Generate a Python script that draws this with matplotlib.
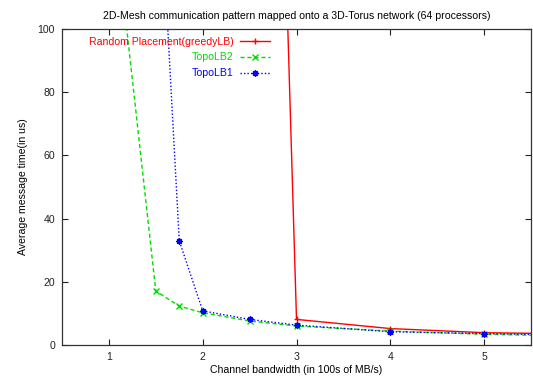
import matplotlib
matplotlib.use('Agg')
import matplotlib.pyplot as plt

plt.rcParams['font.family'] = ['Liberation Sans', 'DejaVu Sans']

# 带宽 (100 MB/s) 与平均消息时间 (us)
bw_random = [2.5, 3, 4, 5, 6]
t_random = [505, 8.1, 5.2, 3.9, 3.5]

bw_topo2 = [1, 1.5, 1.75, 2, 2.5, 3, 4, 5, 6]
t_topo2 = [151, 17.1, 12.3, 10.2, 7.6, 6.0, 4.4, 3.4, 2.8]

bw_topo1 = [1.5, 1.75, 2, 2.5, 3, 4, 5, 6]
t_topo1 = [170, 33.0, 10.8, 8.1, 6.3, 4.2, 3.6, 3.1]

xticks = [1, 2, 3, 4, 5]
yticks = [0, 20, 40, 60, 80, 100]

fs = 7.6

fig = plt.figure(figsize=(5.33, 3.79), dpi=100)
ax = fig.add_axes([62 / 533, 1 - 345 / 379, 469 / 533, 316 / 379])

ax.plot(bw_random, t_random, color='#ff0000', linestyle='-', linewidth=1,
        marker='+', markersize=5, markeredgewidth=1,
        label='Random Placement(greedyLB)')
ax.plot(bw_topo2, t_topo2, color='#00dd00', linestyle=(0, (3, 2)), linewidth=1,
        marker='x', markersize=4, markeredgewidth=1, label='TopoLB2')
ax.plot(bw_topo1, t_topo1, color='#0000ff', linestyle=(0, (1, 1.5)), linewidth=1,
        marker=(8, 2, 0), markersize=4.5, markeredgewidth=1, label='TopoLB1')

ax.set_xlim(0.5, 5.5)
ax.set_ylim(0, 100)
ax.set_xticks(xticks)
ax.set_yticks(yticks)
ax.tick_params(direction='in', top=True, right=True, length=4, width=0.8,
               labelsize=fs, colors='#222222', pad=5)
for s in ax.spines.values():
    s.set_linewidth(0.9)
    s.set_color('#333333')

ax.set_title('2D-Mesh communication pattern mapped onto a 3D-Torus network (64 processors)',
             fontsize=fs, pad=7.5)
ax.set_xlabel('Channel bandwidth (in 100s of MB/s)', fontsize=fs, labelpad=2)
ax.set_ylabel('Average message time(in us)', fontsize=fs, labelpad=7)

leg = ax.legend(loc='upper right', bbox_to_anchor=(0.4435, 0.976), frameon=False,
                fontsize=fs, markerfirst=False, handlelength=2.8,
                labelspacing=0.55, handletextpad=0.65, borderaxespad=0,
                borderpad=0)
for txt, line in zip(leg.get_texts(), leg.get_lines()):
    txt.set_color(line.get_color())
    txt.set_ha('right')
leg._legend_box.align = 'right'

fig.savefig('out.png', dpi=100)
